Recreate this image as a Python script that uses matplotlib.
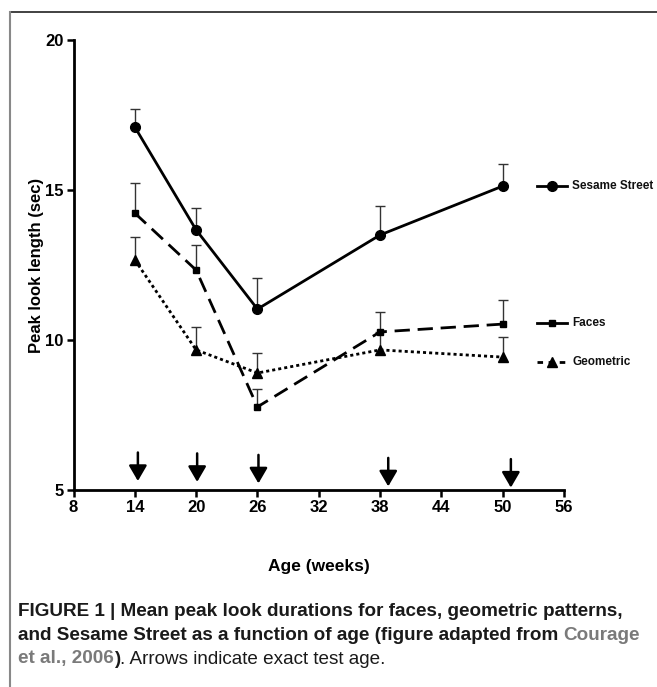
import numpy as np
import matplotlib
matplotlib.use("Agg")
import matplotlib.pyplot as plt
from matplotlib.lines import Line2D

plt.rcParams['font.family'] = ['Liberation Sans', 'DejaVu Sans']

# values
age = [14, 20, 26, 38, 50]
sesame = [17.1, 13.67, 11.03, 13.5, 15.13]
sesame_err = [0.6, 0.73, 1.03, 0.97, 0.73]
faces = [14.23, 12.33, 7.77, 10.27, 10.53]
faces_err = [1.0, 0.83, 0.6, 0.67, 0.8]
geometric = [12.67, 9.67, 8.9, 9.67, 9.43]
geometric_err = [0.77, 0.77, 0.67, 0.6, 0.67]

# arrows marking exact test ages
arrow_age = [14.3, 20.1, 26.1, 38.8, 50.8]
arrow_top = [6.25, 6.22, 6.17, 6.07, 6.03]
arrow_tip = [5.3, 5.27, 5.22, 5.12, 5.08]

x_ticks = [8, 14, 20, 26, 32, 38, 44, 50, 56]
y_ticks = [5, 10, 15, 20]

W, H = 657, 687
fig = plt.figure(figsize=(W / 100, H / 100), dpi=100)
ax = fig.add_axes([73.5 / W, 1 - 490 / H, 490.5 / W, 450 / H])

series = [
    ("Sesame Street", sesame, sesame_err, '-', '-', 'o', 7, 0.675),
    ("Faces", faces, faces_err, (0, (5.5, 2.8)), '-', 's', 4.5, 0.371),
    ("Geometric", geometric, geometric_err, (0, (1.1, 1.1)), (0, (2, 2)), '^', 6.5, 0.284),
]

for name, y, err, ls, leg_ls, mk, ms, ly in series:
    y = np.array(y)
    err = np.array(err)
    ax.vlines(age, y, y + err, color='#333333', lw=1.0, zorder=2)
    ax.plot(age, y + err, ls='none', marker='_', ms=7, mew=1.0,
            color='#333333', zorder=2)
    ax.plot(age, y, ls=ls, lw=2, color='black', marker=mk, ms=ms, zorder=3)
    # legend entry to the right of the plot
    ax.plot([0.945, 1.006], [ly, ly], transform=ax.transAxes, clip_on=False,
            ls=leg_ls, lw=2, color='black')
    ax.plot([0.9755], [ly], transform=ax.transAxes, clip_on=False,
            marker=mk, ms=ms, color='black')
    ax.text(1.017, ly, name, transform=ax.transAxes, fontsize=8.5,
            fontweight='bold', va='center', ha='left', color='#111111')

for xa, yt, yb in zip(arrow_age, arrow_top, arrow_tip):
    ax.annotate('', xy=(xa, yb), xytext=(xa, yt),
                arrowprops=dict(arrowstyle='-|>,head_length=0.72,head_width=0.42',
                                color='black', lw=1.8, mutation_scale=13,
                                shrinkA=0, shrinkB=0))

ax.set_xlim(8, 56)
ax.set_ylim(5, 20)
ax.set_xticks(x_ticks)
ax.set_yticks(y_ticks)
for s in ['top', 'right']:
    ax.spines[s].set_visible(False)
for s in ['left', 'bottom']:
    ax.spines[s].set_linewidth(2)
ax.tick_params(width=1.8, length=5, labelsize=12, pad=2)
for lab in ax.get_xticklabels() + ax.get_yticklabels():
    lab.set_fontweight('bold')

fig.text(37 / W, 1 - 265 / H, 'Peak look length (sec)', rotation=90,
         ha='center', va='center', fontsize=12, fontweight='bold')
fig.text(319 / W, 1 - 567 / H, 'Age (weeks)', ha='center', va='center',
         fontsize=12.5, fontweight='bold')

# frame lines of the figure panel
fig.add_artist(Line2D([10 / W, 1], [1 - 12 / H] * 2, color='#333333', lw=1.3))
fig.add_artist(Line2D([10 / W] * 2, [0, 1 - 12 / H], color='#888888', lw=1.5))

# caption with mixed styles
dark = '#1a1a1a'
grey = '#7a7a7a'
caption = [
    [("FIGURE 1 | Mean peak look durations for faces, geometric patterns,", 'bold', dark)],
    [("and Sesame Street as a function of age (figure adapted from ", 'bold', dark),
     ("Courage", 'bold', grey)],
    [("et al., 2006", 'bold', grey), (")", 'bold', dark),
     (". Arrows indicate exact test age.", 'normal', dark)],
]
line_y = [612, 636, 659]
renderer = fig.canvas.get_renderer()
for parts, yy in zip(caption, line_y):
    x0 = 18
    for txt, wt, col in parts:
        t = fig.text(x0 / W, 1 - yy / H, txt, fontsize=13.6, fontweight=wt,
                     color=col, ha='left', va='center')
        bb = t.get_window_extent(renderer=renderer)
        x0 += bb.width

fig.savefig('out.png', dpi=100)
